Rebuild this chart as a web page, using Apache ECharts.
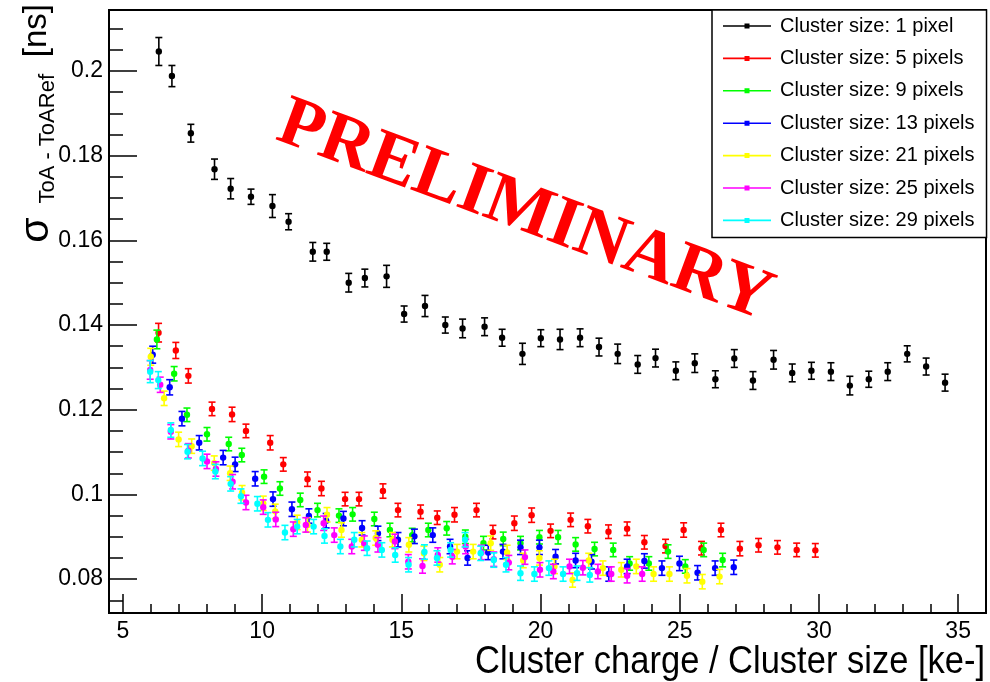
<!DOCTYPE html>
<html>
<head>
<meta charset="utf-8">
<script src="https://cdn.jsdelivr.net/npm/echarts@6/dist/echarts.min.js"></script>
<style>
html,body{margin:0;padding:0;background:#fff;}
#chart{width:990px;height:682px;}
</style>
</head>
<body>
<div id="chart"></div>
<script>
// ---- data ----
const seriesNames = ['Cluster size: 1 pixel','Cluster size: 5 pixels','Cluster size: 9 pixels','Cluster size: 13 pixels','Cluster size: 21 pixels','Cluster size: 25 pixels','Cluster size: 29 pixels'];
const seriesColors = ['#000000','#ff0000','#00ff00','#0000ff','#ffff00','#ff00ff','#00ffff'];

const xS1 = [6.29,6.76,7.44,8.29,8.87,9.60,10.37,10.95,11.82,12.32,13.11,13.69,14.47,15.10,15.85,16.58,17.20,17.99,18.62,19.35,20.01,20.70,21.42,22.10,22.77,23.49,24.13,24.86,25.54,26.28,26.96,27.63,28.37,29.04,29.73,30.43,31.11,31.79,32.47,33.17,33.85,34.53];
const yS1 = [0.2046,0.1988,0.1853,0.1768,0.1722,0.1703,0.1681,0.1644,0.1573,0.1573,0.1500,0.1511,0.1515,0.1426,0.1445,0.1400,0.1392,0.1396,0.1370,0.1332,0.1369,0.1366,0.1370,0.1348,0.1332,0.1307,0.1322,0.1292,0.1310,0.1272,0.1321,0.1269,0.1318,0.1287,0.1292,0.1290,0.1257,0.1272,0.1290,0.1332,0.1302,0.1264];
const eS1 = [0.0033,0.0025,0.0021,0.0024,0.0024,0.0018,0.0027,0.0019,0.0022,0.0020,0.0022,0.0021,0.0026,0.0019,0.0025,0.0019,0.0022,0.0021,0.0020,0.0025,0.0020,0.0024,0.0021,0.0021,0.0023,0.0021,0.0021,0.0021,0.0022,0.0020,0.0021,0.0021,0.0022,0.0021,0.0020,0.0021,0.0022,0.0019,0.0021,0.0019,0.0020,0.0020];

const xS5 = [6.28,6.90,7.35,8.20,8.92,9.42,10.29,10.76,11.63,12.13,12.98,13.48,14.34,14.88,15.69,16.29,16.91,17.70,18.29,19.06,19.68,20.36,21.08,21.70,22.44,23.11,23.73,24.49,25.14,25.78,26.48,27.16,27.83,28.51,29.20,29.87];
const yS5 = [0.1382,0.1340,0.1280,0.1202,0.1189,0.1150,0.1122,0.1071,0.1036,0.1014,0.0989,0.0989,0.1008,0.0963,0.0959,0.0945,0.0952,0.0963,0.0911,0.0932,0.0951,0.0914,0.0940,0.0925,0.0912,0.0919,0.0887,0.0878,0.0916,0.0873,0.0916,0.0872,0.0880,0.0875,0.0869,0.0868];
const eS5 = [0.0022,0.0019,0.0017,0.0016,0.0017,0.0016,0.0017,0.0016,0.0017,0.0017,0.0016,0.0016,0.0017,0.0016,0.0016,0.0016,0.0017,0.0016,0.0016,0.0017,0.0017,0.0016,0.0016,0.0016,0.0016,0.0016,0.0016,0.0016,0.0017,0.0016,0.0016,0.0017,0.0016,0.0016,0.0016,0.0016];

const xS9 = [6.22,6.84,7.30,8.02,8.80,9.27,10.07,10.64,11.37,11.99,12.76,13.25,14.03,14.59,15.39,15.97,16.63,17.30,17.95,18.66,19.28,19.96,20.63,21.26,21.94,22.61,23.20,23.89,24.58,25.20,25.86,26.54];
const yS9 = [0.1366,0.1285,0.1188,0.1142,0.1119,0.1093,0.1042,0.1014,0.0987,0.0963,0.0950,0.0953,0.0942,0.0916,0.0904,0.0916,0.0920,0.0900,0.0885,0.0895,0.0885,0.0899,0.0899,0.0882,0.0871,0.0869,0.0837,0.0837,0.0865,0.0830,0.0869,0.0845];
const eS9 = [0.0022,0.0017,0.0016,0.0016,0.0016,0.0016,0.0016,0.0016,0.0016,0.0016,0.0016,0.0016,0.0016,0.0016,0.0016,0.0016,0.0016,0.0016,0.0016,0.0016,0.0016,0.0016,0.0016,0.0016,0.0016,0.0016,0.0016,0.0016,0.0016,0.0016,0.0016,0.0016];

const xS13 = [6.07,6.68,7.12,7.74,8.60,9.03,9.75,10.39,11.07,11.68,12.30,12.92,13.59,14.16,14.88,15.47,16.13,16.75,17.38,18.12,18.65,19.28,19.96,20.54,21.26,21.83,22.45,23.11,23.73,24.36,24.99,25.64,26.27,26.94];
const yS13 = [0.1330,0.1253,0.1179,0.1122,0.1087,0.1071,0.1037,0.0989,0.0965,0.0949,0.0938,0.0943,0.0921,0.0908,0.0893,0.0901,0.0904,0.0877,0.0850,0.0863,0.0865,0.0875,0.0875,0.0853,0.0844,0.0841,0.0812,0.0830,0.0843,0.0826,0.0837,0.0815,0.0826,0.0828];
const eS13 = [0.0020,0.0018,0.0017,0.0017,0.0017,0.0017,0.0017,0.0017,0.0017,0.0017,0.0017,0.0017,0.0017,0.0017,0.0017,0.0017,0.0017,0.0017,0.0017,0.0017,0.0017,0.0017,0.0017,0.0017,0.0017,0.0017,0.0017,0.0017,0.0017,0.0017,0.0017,0.0017,0.0017,0.0017];

const xS21 = [6.00,6.48,7.00,7.47,8.28,8.85,9.28,10.04,10.47,11.26,11.63,12.33,12.85,13.58,14.08,14.68,15.27,15.81,16.38,17.00,17.58,18.21,18.80,19.38,19.96,20.50,21.15,21.73,22.24,22.90,23.44,24.06,24.63,25.26,25.81,26.43];
const yS21 = [0.1325,0.1227,0.1130,0.1114,0.1074,0.1050,0.1004,0.0979,0.0960,0.0934,0.0928,0.0952,0.0916,0.0893,0.0897,0.0893,0.0881,0.0861,0.0834,0.0865,0.0865,0.0885,0.0863,0.0844,0.0850,0.0830,0.0798,0.0844,0.0826,0.0822,0.0830,0.0812,0.0812,0.0808,0.0794,0.0806];
const eS21 = [0.0020,0.0017,0.0017,0.0017,0.0017,0.0017,0.0017,0.0017,0.0017,0.0017,0.0017,0.0017,0.0017,0.0017,0.0017,0.0017,0.0017,0.0017,0.0017,0.0017,0.0017,0.0017,0.0017,0.0017,0.0017,0.0017,0.0017,0.0017,0.0017,0.0017,0.0017,0.0017,0.0017,0.0017,0.0017,0.0017];

const xS25 = [5.98,6.34,6.72,7.35,8.02,8.34,8.94,9.42,10.04,10.49,11.12,11.57,12.21,12.59,13.22,13.67,14.16,14.77,15.25,15.76,16.31,16.83,17.31,17.88,18.32,18.86,19.44,19.98,20.46,21.04,21.52,22.06,22.54,23.11,23.65];
const yS25 = [0.1294,0.1259,0.1148,0.1103,0.1078,0.1060,0.1030,0.0981,0.0970,0.0941,0.0918,0.0928,0.0932,0.0904,0.0877,0.0885,0.0881,0.0889,0.0841,0.0831,0.0857,0.0853,0.0877,0.0863,0.0847,0.0839,0.0852,0.0822,0.0818,0.0830,0.0827,0.0818,0.0812,0.0808,0.0812];
const eS25 = [0.0022,0.0018,0.0017,0.0017,0.0017,0.0017,0.0017,0.0017,0.0017,0.0017,0.0017,0.0017,0.0017,0.0017,0.0017,0.0017,0.0017,0.0017,0.0017,0.0017,0.0017,0.0017,0.0017,0.0017,0.0017,0.0017,0.0017,0.0017,0.0017,0.0017,0.0017,0.0017,0.0017,0.0017,0.0017];

const xS29 = [5.98,6.27,6.72,7.32,7.86,8.32,8.87,9.24,9.83,10.21,10.82,11.26,11.85,12.24,12.81,13.31,13.77,14.30,14.78,15.26,15.83,16.28,16.77,17.29,17.85,18.32,18.76,19.28,19.78,20.30,20.81,21.31,21.77];
const yS29 = [0.1290,0.1270,0.1152,0.1101,0.1085,0.1054,0.1025,0.0996,0.0978,0.0940,0.0910,0.0924,0.0924,0.0902,0.0877,0.0893,0.0873,0.0869,0.0857,0.0834,0.0864,0.0850,0.0869,0.0893,0.0861,0.0845,0.0834,0.0814,0.0812,0.0826,0.0812,0.0814,0.0810];
const eS29 = [0.0026,0.0020,0.0017,0.0017,0.0017,0.0017,0.0017,0.0017,0.0017,0.0017,0.0017,0.0017,0.0017,0.0017,0.0017,0.0017,0.0017,0.0017,0.0017,0.0017,0.0017,0.0017,0.0017,0.0017,0.0017,0.0017,0.0017,0.0017,0.0017,0.0017,0.0017,0.0017,0.0017];

const xLabels = [5,10,15,20,25,30,35];
const xMinorTicks = [5,6,7,8,9,10,11,12,13,14,15,16,17,18,19,20,21,22,23,24,25,26,27,28,29,30,31,32,33,34,35,36];
const yLabels = [0.08,0.1,0.12,0.14,0.16,0.18,0.2];
const yMinorTicks = [0.075,0.08,0.085,0.09,0.095,0.1,0.105,0.11,0.115,0.12,0.125,0.13,0.135,0.14,0.145,0.15,0.155,0.16,0.165,0.17,0.175,0.18,0.185,0.19,0.195,0.2,0.205,0.21];

const allX = [xS1,xS5,xS9,xS13,xS21,xS25,xS29];
const allY = [yS1,yS5,yS9,yS13,yS21,yS25,yS29];
const allE = [eS1,eS5,eS9,eS13,eS21,eS25,eS29];

// ---- chart ----
const FONT = '"Liberation Sans", Arial, Helvetica, sans-serif';
const chart = echarts.init(document.getElementById('chart'), null, {renderer:'canvas'});

function renderErr(params, api) {
  const x = api.value(0), y = api.value(1), e = api.value(2);
  const p = api.coord([x, y]);
  const t = api.coord([x, y + e]);
  const b = api.coord([x, y - e]);
  const c = api.visual('color');
  const hw = 3.5;
  const ls = {stroke: c, lineWidth: 1.6};
  return {type:'group', children:[
    {type:'line', shape:{x1:p[0], y1:t[1], x2:p[0], y2:b[1]}, style:ls},
    {type:'line', shape:{x1:p[0]-hw, y1:t[1], x2:p[0]+hw, y2:t[1]}, style:ls},
    {type:'line', shape:{x1:p[0]-hw, y1:b[1], x2:p[0]+hw, y2:b[1]}, style:ls},
    {type:'circle', shape:{cx:p[0], cy:p[1], r:3.2}, style:{fill:c}}
  ]};
}

const legendIcon = 'path://M0,0L0.01,0L0,0.01Z M0,6.2L48,6.2L48,7.8L0,7.8Z M21.5,4.5L26.5,4.5L26.5,9.5L21.5,9.5Z M0,14L0.01,14L0,13.99Z';

const series = seriesNames.map((name, k) => ({
  type:'custom',
  name: name,
  xAxisIndex:0, yAxisIndex:0,
  renderItem: renderErr,
  itemStyle:{color: seriesColors[k]},
  encode:{x:0, y:1},
  clip:true,
  data: allX[k].map((x, i) => [x, allY[k][i], allE[k][i]])
}));

const option = {
  backgroundColor:'#fff',
  animation:false,
  grid:{left:109, top:10, right:4, bottom:69, show:true, borderColor:'#000', borderWidth:2, backgroundColor:'transparent'},
  xAxis:[
    {type:'value', min:4.5, max:36, position:'bottom',
     axisLine:{show:true, lineStyle:{color:'#000', width:2}},
     axisTick:{show:true, inside:true, length:19, customValues:xLabels, lineStyle:{color:'#000', width:1.5}},
     axisLabel:{show:true, customValues:xLabels, fontSize:23, fontFamily:FONT, color:'#000', margin:7},
     splitLine:{show:false}},
    {type:'value', min:4.5, max:36, position:'bottom',
     axisLine:{show:false},
     axisTick:{show:true, inside:true, length:9, customValues:xMinorTicks, lineStyle:{color:'#000', width:1.5}},
     axisLabel:{show:false},
     splitLine:{show:false}}
  ],
  yAxis:[
    {type:'value', min:0.072, max:0.2144, position:'left',
     axisLine:{show:true, lineStyle:{color:'#000', width:2}},
     axisTick:{show:true, inside:true, length:28, customValues:yLabels, lineStyle:{color:'#000', width:1.5}},
     axisLabel:{show:true, customValues:yLabels, fontSize:23, fontFamily:FONT, color:'#000', margin:6},
     splitLine:{show:false}},
    {type:'value', min:0.072, max:0.2144, position:'left',
     axisLine:{show:false},
     axisTick:{show:true, inside:true, length:14, customValues:yMinorTicks, lineStyle:{color:'#000', width:1.5}},
     axisLabel:{show:false},
     splitLine:{show:false}}
  ],
  legend:{
    show:true, orient:'vertical', left:712, top:10,
    padding:[6,12,7,11], itemGap:12.4, itemWidth:48, itemHeight:14,
    backgroundColor:'#fff', borderColor:'#000', borderWidth:1.5,
    selectedMode:false,
    textStyle:{fontSize:20, fontFamily:FONT, color:'#000', padding:[0,0,0,4]},
    itemStyle:{borderWidth:0},
    data: seriesNames.map(n => ({name:n, icon:legendIcon}))
  },
  graphic:[
    {type:'text', x:525, y:212, rotation:-0.355, z:100,
     style:{text:'PRELIMINARY', fill:'#ff0000', font:'bold 72px "Liberation Serif", "Times New Roman", serif', align:'center', verticalAlign:'middle'}},
    {type:'text', x:985, y:682, z:100, scaleY:1.12,
     style:{text:'Cluster charge / Cluster size [ke-]', fill:'#000', font:'34.5px ' + FONT, align:'right', verticalAlign:'bottom'}},
    {type:'text', x:37, y:4, rotation:Math.PI/2, z:100,
     style:{text:'[ns]', fill:'#000', font:'33px ' + FONT, align:'right', verticalAlign:'middle'}},
    {type:'text', x:48, y:74, rotation:Math.PI/2, z:100,
     style:{text:'ToA - ToARef', fill:'#000', font:'22px ' + FONT, align:'right', verticalAlign:'middle'}},
    {type:'text', x:37, y:230, rotation:Math.PI/2, z:100,
     style:{text:'σ', fill:'#000', font:'41px ' + FONT, align:'center', verticalAlign:'middle'}}
  ],
  series: series
};
chart.setOption(option);
</script>
</body>
</html>
